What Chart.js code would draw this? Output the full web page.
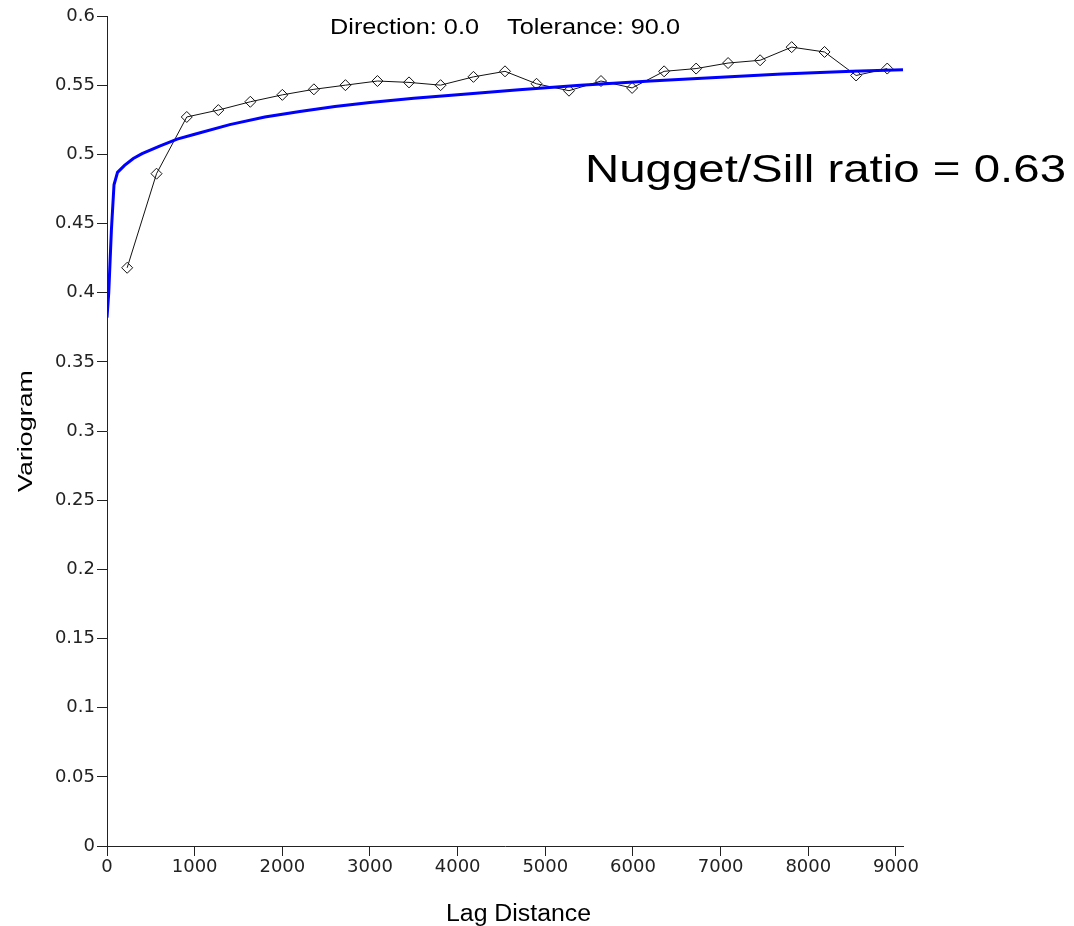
<!DOCTYPE html>
<html>
<head>
<meta charset="utf-8">
<title>Variogram</title>
<script src="https://cdn.jsdelivr.net/npm/chart.js@4"></script>
<style>
    html, body { margin: 0; padding: 0; background: #fff; }
    #wrap { width: 1074px; height: 926px; }
</style>
</head>
<body>
<div id="wrap"><canvas id="grafico" width="1074" height="926"></canvas></div>
<script>
        // experimental variogram (lag distance, value)
        const lagDist = [230, 565, 910, 1270, 1635, 2000, 2360, 2720, 3085, 3445, 3805, 4180, 4540,
            4900, 5270, 5635, 5990, 6355, 6720, 7085, 7450, 7810, 8185, 8545, 8900];
        const variogram = [0.418, 0.486, 0.527, 0.532, 0.538, 0.543, 0.547, 0.550, 0.553, 0.552, 0.550, 0.556, 0.560,
            0.551, 0.546, 0.553, 0.548, 0.560, 0.562, 0.566, 0.568, 0.5775, 0.574, 0.557, 0.562];

        // fitted model curve
        const modelLag = [0, 20, 50, 80, 120, 200, 300, 400, 600, 800, 1000, 1400, 1800, 2200, 2600,
            3000, 3500, 4000, 4700, 5400, 6200, 7000, 7700, 8500, 9080];
        const modelVal = [0.382, 0.400, 0.445, 0.478, 0.487, 0.492, 0.497, 0.5005, 0.506, 0.511, 0.5145, 0.5215, 0.527, 0.531, 0.5345,
            0.5375, 0.5405, 0.543, 0.5466, 0.550, 0.5531, 0.5558, 0.558, 0.560, 0.5612];

        const xTicks = [0, 1000, 2000, 3000, 4000, 5000, 6000, 7000, 8000, 9000];

        const titleText = 'Direction: 0.0    Tolerance: 90.0';
        const ratioText = 'Nugget/Sill ratio = 0.63';
        const xTitle = 'Lag Distance';
        const yTitle = 'Variogram';

        const FONT = '"Liberation Sans", Arial, sans-serif';
        const TICKFONT = '"DejaVu Sans", sans-serif';

        // draws text stretched to a given width (optionally rotated)
        function drawFitted(ctx, text, x, y, width, font, rot) {
            ctx.save();
            ctx.font = font;
            ctx.fillStyle = '#000';
            ctx.textBaseline = 'alphabetic';
            ctx.textAlign = 'left';
            const w = ctx.measureText(text).width;
            ctx.translate(x, y);
            if (rot) ctx.rotate(rot);
            ctx.scale(width / w, 1);
            ctx.fillText(text, 0, 0);
            ctx.restore();
        }

        const textPlugin = {
            id: 'textos',
            afterDraw(chart) {
                const ctx = chart.ctx;
                drawFitted(ctx, titleText, 330, 34, 350, '22px ' + FONT);
                drawFitted(ctx, ratioText, 585, 182, 481, '39px ' + FONT);
                drawFitted(ctx, xTitle, 446, 921, 145, '23px ' + FONT);
                drawFitted(ctx, yTitle, 32, 492, 122, '21px ' + FONT, -Math.PI / 2);
            }
        };

        const ctx1 = document.getElementById('grafico').getContext('2d');
        const grafico = new Chart(ctx1, {
            type: 'scatter',
            data: {
                datasets: [{
                    label: 'Model',
                    data: modelLag.map((x, i) => ({ x: x, y: modelVal[i] })),
                    showLine: true,
                    borderColor: '#0000ff',
                    borderWidth: 3,
                    pointRadius: 0,
                    tension: 0,
                    order: 0
                },
                {
                    label: 'Experimental',
                    data: lagDist.map((x, i) => ({ x: x, y: variogram[i] })),
                    showLine: true,
                    borderColor: '#111',
                    borderWidth: 1,
                    pointStyle: 'rectRot',
                    pointRadius: 5.5,
                    pointBorderWidth: 1,
                    pointBorderColor: '#111',
                    pointBackgroundColor: 'rgba(0,0,0,0)',
                    tension: 0,
                    order: 1
                }]
            },
            options: {
                responsive: false,
                animation: false,
                layout: { padding: { top: 16, right: 171, left: 0, bottom: 0 } },
                plugins: {
                    legend: { display: false },
                    tooltip: { enabled: false }
                },
                scales: {
                    x: {
                        type: 'linear',
                        min: 0,
                        max: 9080,
                        afterFit: function (scale) { scale.height = 80; },
                        afterBuildTicks: function (scale) {
                            scale.ticks = xTicks.map(v => ({ value: v }));
                        },
                        border: { display: true, color: '#222', width: 1 },
                        grid: { drawOnChartArea: false, tickLength: 10, color: '#222' },
                        ticks: {
                            autoSkip: false,
                            maxRotation: 0,
                            padding: 1,
                            color: '#222',
                            font: { family: TICKFONT, size: 18 },
                            callback: function (v) { return String(v); }
                        }
                    },
                    y: {
                        min: 0,
                        max: 0.6,
                        afterFit: function (scale) { scale.width = 107; },
                        border: { display: true, color: '#222', width: 1 },
                        grid: { drawOnChartArea: false, tickLength: 10, color: '#222' },
                        ticks: {
                            stepSize: 0.05,
                            padding: 2,
                            color: '#222',
                            font: { family: TICKFONT, size: 18 },
                            callback: function (v) { return String(+v.toFixed(2)); }
                        }
                    }
                }
            },
            plugins: [textPlugin]
        });
</script>
</body>
</html>
